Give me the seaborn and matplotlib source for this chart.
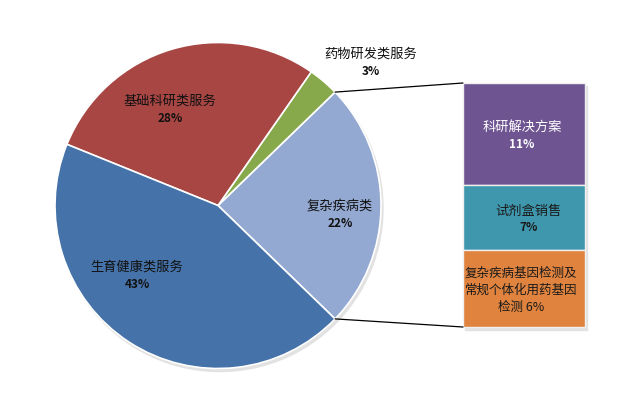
import numpy as np
import matplotlib
matplotlib.use("Agg")
import matplotlib.pyplot as plt
import seaborn as sns

# pie data (drawn counterclockwise starting from the split slice on the right)
pie_names = ["复杂疾病类", "药物研发类服务", "基础科研类服务", "生育健康类服务"]
pie_vals = [24, 3, 28, 43]
pie_pct = ["22%", "3%", "28%", "43%"]
pie_colors = ["#93a9d1", "#88a94b", "#a84644", "#4572a8"]

# breakdown bar of the split slice, top to bottom
bar_names = ["科研解决方案", "试剂盒销售", "复杂疾病基因检测及\n常规个体化用药基因\n检测"]
bar_vals = [11, 7, 8.3]   # segment sizes as drawn
bar_pct = ["11%", "7%", "6%"]
bar_colors = ["#6e5592", "#3f97ae", "#df833e"]
bar_text = ["white", "#1a1a1a", "#1a1a1a"]

sns.set_style("white")
plt.rcParams["font.family"] = ["Noto Sans CJK SC", "DejaVu Sans"]

W, H = 640, 411
fig = plt.figure(figsize=(6.4, 4.11), dpi=100)
ax = fig.add_axes([0, 0, 1, 1])

cx, cy, r = 218, H - 205.5, 163
start = -(pie_vals[0] / sum(pie_vals) * 360) / 2

# soft shadow under the pie
ax.add_patch(plt.Circle((cx + 2, cy - 3), r, color="#e2e2e2", zorder=0))
wedges, _ = ax.pie(pie_vals, colors=pie_colors, startangle=start, counterclock=True,
                   center=(cx, cy), radius=r,
                   wedgeprops=dict(edgecolor="white", linewidth=1.2))

# stacked bar (top segment first)
bx, bw = 463, 122
b_top, b_bot = H - 83, H - 327
scale = (b_top - b_bot) / sum(bar_vals)
ax.add_patch(plt.Rectangle((bx + 2, b_bot - 3), bw, b_top - b_bot, color="#e2e2e2", zorder=0))
y = b_top
for v, c in zip(bar_vals, bar_colors):
    h = v * scale
    ax.bar(bx, h, width=bw, bottom=y - h, align="edge", color=c,
           edgecolor="#f0f0f0", linewidth=1, zorder=2)
    y -= h

# connector lines from the split slice to the bar
w0 = wedges[0]
for ang, by in [(w0.theta2, b_top), (w0.theta1, b_bot)]:
    px = cx + r * np.cos(np.radians(ang))
    py = cy + r * np.sin(np.radians(ang))
    ax.plot([px, bx], [py, by], color="black", lw=0.9, zorder=3)

# pie labels
label_pos = [(340, 206), (371, 54), (170, 101), (137, 267)]
for (lx, ly), n, p in zip(label_pos, pie_names, pie_pct):
    ax.text(lx, H - ly, n, ha="center", va="center", fontsize=9.5, color="#111111")
    ax.text(lx, H - ly - 17, p, ha="center", va="center", fontsize=8.5,
            fontweight="bold", color="#111111")

# bar labels
ax.text(522, H - 127, bar_names[0], ha="center", va="center", fontsize=9.5, color=bar_text[0])
ax.text(522, H - 144, bar_pct[0], ha="center", va="center", fontsize=8.5,
        fontweight="bold", color=bar_text[0])
ax.text(528, H - 211, bar_names[1], ha="center", va="center", fontsize=9.5, color=bar_text[1])
ax.text(529, H - 227, bar_pct[1], ha="center", va="center", fontsize=8.5,
        fontweight="bold", color=bar_text[1])
lines = bar_names[2].split("\n")
ax.text(521, H - 273, lines[0], ha="center", va="center", fontsize=9, color=bar_text[2])
ax.text(521, H - 290, lines[1], ha="center", va="center", fontsize=9, color=bar_text[2])
ax.text(521, H - 307, lines[2] + " " + bar_pct[2], ha="center", va="center",
        fontsize=9, color=bar_text[2])

ax.set_xlim(0, W)
ax.set_ylim(0, H)
ax.set_aspect("equal")
ax.axis("off")

fig.savefig("out.png", dpi=100, facecolor="white")
